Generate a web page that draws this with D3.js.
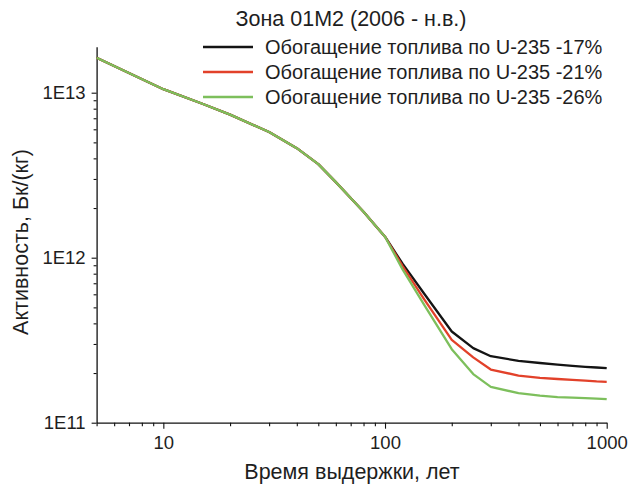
<!DOCTYPE html>
<html>
<head>
<meta charset="utf-8">
<script src="https://cdn.jsdelivr.net/npm/d3@7/dist/d3.min.js"></script>
<style>
  html, body { margin: 0; padding: 0; background: #fff; }
  svg { display: block; font-family: "Liberation Sans", Arial, sans-serif; }
</style>
</head>
<body>
<svg id="chart" width="630" height="492"></svg>
<script>
// Cooling time, years
const years = [5, 10, 15, 20, 30, 40, 50, 60, 70, 80, 90, 100, 120, 150, 200, 250, 300, 400, 500, 600, 700, 800, 900, 1000];

// Specific activity, Bq/kg, for three fuel enrichment levels
const enrich17 = [1.63e13, 1.05e13, 8.57e12, 7.36e12, 5.78e12, 4.61e12, 3.69e12, 2.87e12, 2.30e12, 1.90e12, 1.58e12, 1.34e12,
                  9.2e11, 6.07e11, 3.57e11, 2.83e11, 2.53e11, 2.37e11, 2.30e11, 2.25e11, 2.21e11, 2.18e11, 2.16e11, 2.14e11];
const enrich21 = [1.63e13, 1.05e13, 8.57e12, 7.36e12, 5.78e12, 4.61e12, 3.69e12, 2.87e12, 2.30e12, 1.90e12, 1.58e12, 1.34e12,
                  8.9e11, 5.61e11, 3.18e11, 2.49e11, 2.10e11, 1.93e11, 1.87e11, 1.84e11, 1.82e11, 1.80e11, 1.78e11, 1.77e11];
const enrich26 = [1.63e13, 1.05e13, 8.57e12, 7.36e12, 5.78e12, 4.61e12, 3.69e12, 2.87e12, 2.30e12, 1.90e12, 1.58e12, 1.34e12,
                  8.5e11, 5.2e11, 2.79e11, 1.97e11, 1.65e11, 1.51e11, 1.46e11, 1.43e11, 1.42e11, 1.41e11, 1.40e11, 1.39e11];

const seriesNames = [
  "Обогащение топлива по U-235 -17%",
  "Обогащение топлива по U-235 -21%",
  "Обогащение топлива по U-235 -26%"
];
const seriesColors = ["#141414", "#e2412a", "#7dbf5c"];

const xTickLabels = [10, 100, 1000];
const yTickLabels = [1e11, 1e12, 1e13];

const titleText = "Зона 01М2 (2006 - н.в.)";
const xLabel = "Время выдержки, лет";
const yLabel = "Активность, Бк/(кг)";

const svg = d3.select("#chart");
const textColor = "#1e1e1e";

const x = d3.scaleLog().domain([5, 1000]).range([96.6, 606.7]);
const y = d3.scaleLog().domain([1e11, 1.9e13]).range([422.7, 46.7]);

// Tick positions: every integer multiple inside each decade
function logTicks(lo, hi) {
  const out = [];
  for (let p = Math.floor(Math.log10(lo)); p <= Math.ceil(Math.log10(hi)); p++) {
    for (let m = 1; m <= 9; m++) {
      const v = m * Math.pow(10, p);
      if (v >= lo * 0.9999 && v <= hi * 1.0001) out.push(v);
    }
  }
  return out;
}
const isMajor = v => Math.abs(Math.log10(v) - Math.round(Math.log10(v))) < 1e-9;

// X axis
const xAxis = d3.axisBottom(x)
  .tickValues(logTicks(5, 1000))
  .tickSizeOuter(0)
  .tickFormat(v => xTickLabels.includes(Math.round(v)) ? String(Math.round(v)) : "");
const gx = svg.append("g").attr("transform", `translate(0,${y(1e11)})`).call(xAxis);
gx.selectAll(".tick line").attr("y2", d => isMajor(d) ? 6 : 3.5);
gx.selectAll(".tick text").attr("y", 13);

// Y axis
const yAxis = d3.axisLeft(y)
  .tickValues(logTicks(1e11, 1.9e13))
  .tickSizeOuter(0)
  .tickFormat(v => yTickLabels.some(t => Math.abs(t - v) / t < 1e-6) ? "1E" + Math.round(Math.log10(v)) : "");
const gy = svg.append("g").attr("transform", `translate(${x(5)},0)`).call(yAxis);
gy.selectAll(".tick line").attr("x2", d => isMajor(d) ? -5 : -3);
gy.selectAll(".tick text").attr("x", -11);

[gx, gy].forEach(g => {
  g.select(".domain").attr("stroke", "#111").attr("stroke-width", 1.3);
  g.selectAll(".tick line").attr("stroke", "#111").attr("stroke-width", 1.1);
  g.selectAll(".tick text").attr("fill", textColor).style("font-size", "18.5px");
});

// Curves
const line = d3.line().x(d => x(d[0])).y(d => y(d[1]));
const allSeries = [enrich17, enrich21, enrich26];
allSeries.forEach((vals, i) => {
  svg.append("path")
    .datum(years.map((t, k) => [t, vals[k]]))
    .attr("fill", "none")
    .attr("stroke", seriesColors[i])
    .attr("stroke-width", 2.3)
    .attr("stroke-linejoin", "round")
    .attr("d", line);
});

// Title
svg.append("text")
  .attr("x", 351).attr("y", 26)
  .attr("text-anchor", "middle")
  .attr("fill", textColor)
  .style("font-size", "21.5px")
  .text(titleText);

// Legend
const legend = svg.append("g");
seriesNames.forEach((name, i) => {
  const cy = 47 + i * 25;
  legend.append("line")
    .attr("x1", 203).attr("x2", 253).attr("y1", cy).attr("y2", cy)
    .attr("stroke", seriesColors[i]).attr("stroke-width", 2.3);
  legend.append("text")
    .attr("x", 265).attr("y", cy)
    .attr("dy", "0.36em")
    .attr("fill", textColor)
    .style("font-size", "20px")
    .text(name);
});

// Axis titles
svg.append("text")
  .attr("x", 352).attr("y", 479)
  .attr("text-anchor", "middle")
  .attr("fill", textColor)
  .style("font-size", "21.5px")
  .text(xLabel);

svg.append("text")
  .attr("transform", "translate(28,242) rotate(-90)")
  .attr("text-anchor", "middle")
  .attr("fill", textColor)
  .style("font-size", "21.5px")
  .text(yLabel);
</script>
</body>
</html>
